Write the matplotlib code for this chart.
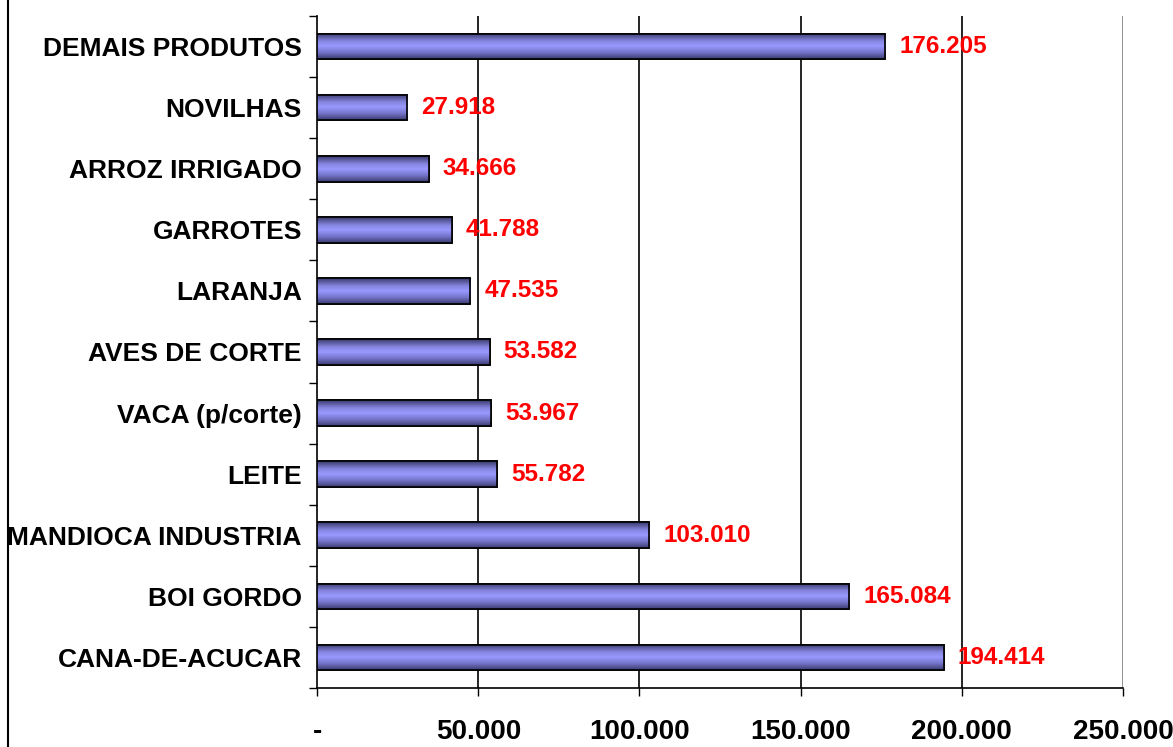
import matplotlib
matplotlib.use("Agg")
import matplotlib.pyplot as plt
import numpy as np
from matplotlib.colors import LinearSegmentedColormap
from matplotlib.lines import Line2D

categories = ["CANA-DE-ACUCAR", "BOI GORDO", "MANDIOCA INDUSTRIA", "LEITE",
              "VACA (p/corte)", "AVES DE CORTE", "LARANJA", "GARROTES",
              "ARROZ IRRIGADO", "NOVILHAS", "DEMAIS PRODUTOS"]
values = [194414, 165084, 103010, 55782, 53967, 53582, 47535, 41788,
          34666, 27918, 176205]
value_labels = ["194.414", "165.084", "103.010", "55.782", "53.967", "53.582",
                "47.535", "41.788", "34.666", "27.918", "176.205"]
xticks = [0, 50000, 100000, 150000, 200000, 250000]
xtick_labels = ["-", "50.000", "100.000", "150.000", "200.000", "250.000"]

plt.rcParams['font.family'] = ['Liberation Sans', 'DejaVu Sans']

fig = plt.figure(figsize=(11.73, 7.47), dpi=100)
ax = fig.add_axes([0.2703, 0.0790, 0.9574 - 0.2703, 0.9786 - 0.0790])

bar_h = 0.42
y = np.arange(len(categories))
bars = ax.barh(y, values, height=bar_h, color="#9999ff", edgecolor="black",
               linewidth=1.2, zorder=3)

cmap = LinearSegmentedColormap.from_list(
    "g", [(0.0, "#3c3c72"), (0.25, "#7373c8"), (0.5, "#9999ff"),
          (0.7, "#8585e0"), (1.0, "#3a3a6c")])
grad = np.linspace(0, 1, 64).reshape(-1, 1)
for b in bars:
    x0, y0 = b.get_x(), b.get_y()
    w, h = b.get_width(), b.get_height()
    im = ax.imshow(grad, extent=[x0, x0 + w, y0 + h, y0], aspect="auto",
                   cmap=cmap, zorder=3.5, interpolation="bilinear")
    im.set_clip_path(b)
    r = plt.Rectangle((x0, y0), w, h, fill=False, edgecolor="black",
                      linewidth=1.2, zorder=4)
    ax.add_patch(r)

for yi, v, lab in zip(y, values, value_labels):
    ax.annotate(lab, (v, yi), xytext=(10, 0), textcoords="offset points",
                va="center", ha="left", color="#ff0000", fontsize=17.5,
                fontweight="bold", zorder=5)

ax.set_xlim(0, 250000)
ax.set_ylim(-0.5, len(categories) - 0.5)
ax.set_xticks(xticks)
ax.set_xticklabels(xtick_labels, fontsize=20, fontweight="bold")
ax.set_yticks(y)
ax.set_yticklabels(categories, fontsize=19, fontweight="bold")
ax.tick_params(axis="y", which="major", length=0, pad=11)
ax.set_yticks(np.arange(-0.5, len(categories), 1.0), minor=True)
ax.tick_params(axis="y", which="minor", length=6, width=1, direction="out")
ax.tick_params(axis="x", which="major", length=6, width=1, direction="out",
               pad=16)

for xv in xticks[1:]:
    col = "#808080" if xv == xticks[-1] else "black"
    ax.axvline(xv, color=col, linewidth=1.2, zorder=1)

for s in ["top", "right"]:
    ax.spines[s].set_visible(False)
ax.spines["left"].set_linewidth(1.2)
ax.spines["bottom"].set_linewidth(1.2)

fig.add_artist(Line2D([0.0068, 0.0068], [0, 1], color="black", linewidth=1.5,
                      transform=fig.transFigure))

fig.savefig("out.png", dpi=100)
